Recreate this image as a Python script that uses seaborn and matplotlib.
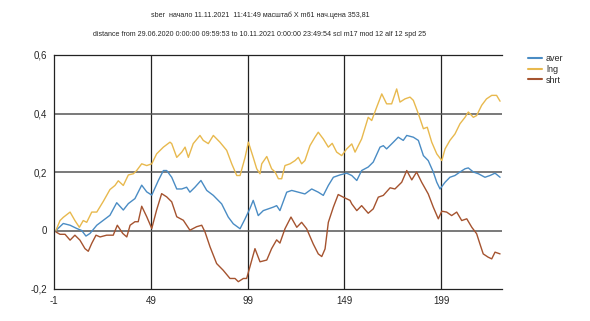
import numpy as np
import pandas as pd
import matplotlib
matplotlib.use("Agg")
import matplotlib.pyplot as plt
import seaborn as sns

title1 = "sber  начало 11.11.2021  11:41:49 масштаб X m61 нач.цена 353,81"
title2 = "distance from 29.06.2020 0:00:00 09:59:53 to 10.11.2021 0:00:00 23:49:54 scl m17 mod 12 alf 12 spd 25"

x_ticks = [-1, 49, 99, 149, 199]
y_ticks = [-0.2, 0.0, 0.2, 0.4, 0.6]
y_tick_labels = ["-0,2", "0", "0,2", "0,4", "0,6"]

series_names = ["aver", "lng", "shrt"]
series_colors = ["#4a8cc4", "#e8b94e", "#a5532f"]

aver_x = [0, 3.8, 7.3, 10.7, 13.3, 15.5, 17.6, 21.1, 24.5, 27.9, 31.4, 34.8, 37.4, 40.8,
          44.3, 46.9, 49.5, 52.9, 55.5, 57.2, 59.8, 62.4, 65.0, 67.5, 69.2, 71.8, 74.9,
          77.9, 81.3, 85.6, 89.0, 91.6, 95.1, 97.7, 100.2, 101.9, 104.5, 107.1, 109.7,
          112.3, 114.0, 115.7, 119.2, 121.8, 125.2, 128.6, 132.1, 135.5, 138.1, 140.7,
          143.3, 146.7, 150.2, 152.8, 155.4, 157.9, 161.3, 163.9, 167.4, 169.1, 170.8,
          174.3, 176.8, 179.4, 181.2, 184.6, 187.2, 189.8, 192.3, 194.9, 196.7, 198.4,
          201.0, 203.5, 206.1, 208.7, 211.3, 213.0, 215.6, 218.2, 221.6, 224.2, 226.8, 229.4]
aver_y = [0.0, 0.024, 0.018, 0.007, 0.0, -0.019, -0.01, 0.018, 0.035, 0.052, 0.095, 0.07,
          0.092, 0.109, 0.155, 0.132, 0.121, 0.171, 0.205, 0.205, 0.182, 0.142, 0.142, 0.148,
          0.131, 0.148, 0.171, 0.137, 0.12, 0.091, 0.046, 0.023, 0.006, 0.04, 0.075, 0.103,
          0.051, 0.068, 0.074, 0.08, 0.085, 0.068, 0.131, 0.137, 0.131, 0.125, 0.142, 0.131,
          0.12, 0.154, 0.182, 0.19, 0.196, 0.188, 0.171, 0.205, 0.217, 0.234, 0.285, 0.29,
          0.279, 0.302, 0.319, 0.308, 0.325, 0.319, 0.308, 0.256, 0.239, 0.2, 0.165, 0.142,
          0.165, 0.182, 0.188, 0.2, 0.211, 0.214, 0.2, 0.194, 0.182, 0.188, 0.196, 0.182]

lng_x = [0, 2.1, 3.8, 7.3, 9.8, 12.1, 14.1, 15.9, 18.5, 21.1, 24.5, 27.9, 30.5, 32.2, 34.8,
         37.4, 40.0, 41.7, 44.3, 46.9, 49.5, 52.0, 55.5, 58.9, 59.8, 62.4, 65.0, 66.7, 68.4,
         70.9, 74.4, 76.1, 78.7, 81.3, 84.7, 88.2, 90.8, 93.4, 95.1, 97.7, 99.4, 101.9,
         103.7, 105.4, 106.3, 108.9, 111.4, 113.2, 114.9, 116.6, 118.3, 120.9, 123.5, 125.2,
         126.9, 128.6, 131.2, 133.8, 135.5, 138.1, 140.7, 142.7, 145.0, 147.6, 150.2, 152.8,
         154.5, 157.9, 161.3, 163.1, 165.7, 168.3, 170.8, 173.4, 176.0, 177.7, 180.3, 182.9,
         184.6, 187.2, 189.8, 191.8, 194.1, 196.7, 199.3, 201.0, 203.5, 206.1, 208.7, 211.3,
         213.0, 215.6, 217.3, 219.9, 222.4, 225.1, 227.6, 229.4]
lng_y = [0.0, 0.034, 0.045, 0.063, 0.034, 0.011, 0.034, 0.028, 0.063, 0.063, 0.10, 0.14,
         0.154, 0.17, 0.154, 0.19, 0.194, 0.205, 0.228, 0.222, 0.228, 0.262, 0.285, 0.302,
         0.297, 0.25, 0.268, 0.285, 0.25, 0.297, 0.325, 0.308, 0.297, 0.325, 0.302, 0.274,
         0.228, 0.188, 0.188, 0.25, 0.302, 0.25, 0.211, 0.194, 0.228, 0.253, 0.211, 0.2,
         0.177, 0.177, 0.222, 0.228, 0.239, 0.25, 0.228, 0.239, 0.29, 0.319, 0.336, 0.313,
         0.285, 0.298, 0.268, 0.256, 0.279, 0.296, 0.268, 0.313, 0.387, 0.376, 0.422, 0.467,
         0.433, 0.433, 0.484, 0.439, 0.45, 0.456, 0.445, 0.399, 0.348, 0.353, 0.302, 0.262,
         0.239, 0.279, 0.308, 0.33, 0.365, 0.387, 0.405, 0.387, 0.393, 0.428, 0.45, 0.462,
         0.462, 0.442]

shrt_x = [0, 2.1, 4.7, 7.3, 9.8, 12.4, 15.0, 16.7, 18.5, 20.7, 22.8, 26.2, 29.6, 31.7, 34.5,
          36.6, 38.3, 40.8, 42.5, 44.3, 46.9, 49.5, 52.0, 54.6, 57.2, 59.8, 62.4, 65.8, 69.2,
          72.7, 75.3, 77.0, 79.6, 83.0, 86.4, 89.9, 92.5, 94.2, 96.8, 98.5, 100.2, 102.8,
          105.4, 108.9, 111.4, 114.0, 115.7, 118.3, 121.4, 124.4, 126.9, 129.5, 132.9, 135.5,
          137.3, 139.0, 140.7, 143.3, 145.8, 148.4, 151.9, 152.8, 155.4, 157.9, 161.3, 163.9,
          166.5, 169.1, 172.6, 175.1, 178.6, 181.2, 183.8, 186.3, 188.9, 192.3, 194.9, 197.5,
          199.3, 201.8, 204.4, 207.0, 209.6, 212.2, 214.8, 217.3, 219.0, 220.7, 223.2, 225.1,
          226.8, 229.4]
shrt_y = [-0.005, -0.013, -0.013, -0.033, -0.016, -0.033, -0.062, -0.071, -0.044, -0.016,
          -0.022, -0.016, -0.016, 0.018, -0.01, -0.022, 0.018, 0.03, 0.03, 0.083, 0.047,
          0.007, 0.07, 0.126, 0.115, 0.098, 0.047, 0.035, 0.001, 0.013, 0.018, -0.005,
          -0.056, -0.113, -0.136, -0.164, -0.164, -0.175, -0.164, -0.164, -0.124, -0.062,
          -0.107, -0.101, -0.062, -0.032, -0.043, 0.006, 0.046, 0.011, 0.028, 0.006, -0.046,
          -0.08, -0.089, -0.063, 0.028, 0.08, 0.123, 0.114, 0.103, 0.091, 0.068, 0.085,
          0.059, 0.074, 0.114, 0.12, 0.146, 0.142, 0.165, 0.205, 0.173, 0.2, 0.165, 0.125,
          0.08, 0.04, 0.066, 0.063, 0.051, 0.063, 0.034, 0.04, 0.011, -0.011, -0.046, -0.08,
          -0.091, -0.097, -0.074, -0.08]

frames = []
for name, xs, ys in [("aver", aver_x, aver_y), ("lng", lng_x, lng_y), ("shrt", shrt_x, shrt_y)]:
    frames.append(pd.DataFrame({"x": xs, "y": ys, "series": name}))
df = pd.concat(frames, ignore_index=True)

sns.set_style("white")
plt.rcParams["font.family"] = ["Liberation Sans", "DejaVu Sans"]

fig = plt.figure(figsize=(5.9, 3.21), dpi=100)
ax = fig.add_axes([54 / 590, 1 - 289 / 321, (502 - 54) / 590, (289 - 55) / 321])

sns.lineplot(data=df, x="x", y="y", hue="series", hue_order=series_names,
             palette=dict(zip(series_names, series_colors)), linewidth=1.0,
             sort=False, estimator=None, ax=ax, legend=True)

ax.set_xlim(-1, 230.4)
ax.set_ylim(-0.2, 0.6)
ax.set_xticks(x_ticks)
ax.set_xticklabels([str(t) for t in x_ticks])
ax.set_yticks(y_ticks)
ax.set_yticklabels(y_tick_labels)
ax.tick_params(axis="both", labelsize=7, length=3, width=0.8, color="black", pad=2)
ax.set_xlabel("")
ax.set_ylabel("")

for t in x_ticks[1:]:
    ax.axvline(t, color="#222222", lw=0.9, zorder=0)
for t in [0.0, 0.2, 0.4]:
    ax.axhline(t, color="#555555", lw=1.1, zorder=0)

for s in ["left", "bottom", "top"]:
    ax.spines[s].set_color("#222222")
    ax.spines[s].set_linewidth(0.9)
ax.spines["right"].set_visible(False)

leg = ax.legend(loc="upper left", bbox_to_anchor=(1.05, 1.02), frameon=False,
                fontsize=6.5, handlelength=1.6, handletextpad=0.4, labelspacing=0.2,
                borderaxespad=0)
for line in leg.get_lines():
    line.set_linewidth(1.5)

fig.text(260 / 590, 1 - 15 / 321, title1, ha="center", va="center", fontsize=5.1)
fig.text(260 / 590, 1 - 35 / 321, title2, ha="center", va="center", fontsize=5.1)

fig.savefig("out.png", dpi=100)
